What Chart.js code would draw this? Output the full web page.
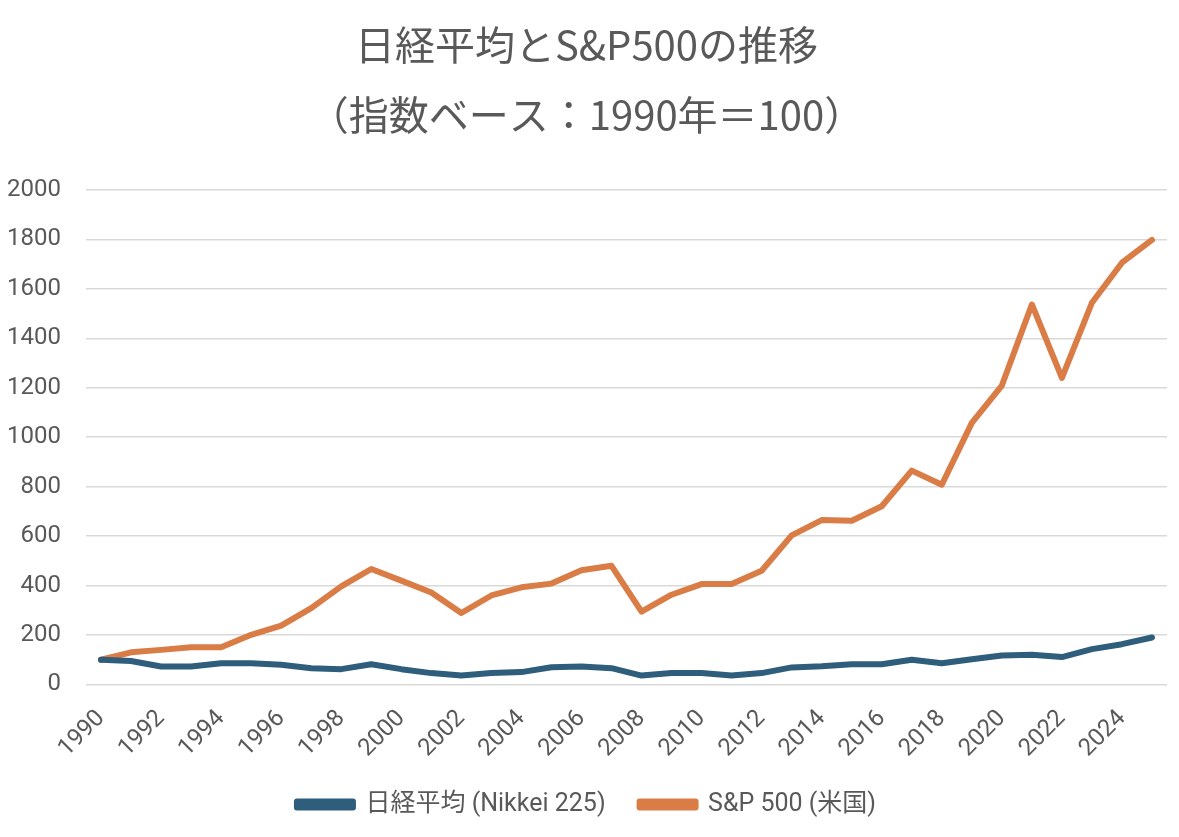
<!DOCTYPE html>
<html lang="ja">
<head>
    <meta charset="UTF-8">
    <title>日経平均とS&amp;P500の推移</title>
    <script src="https://cdn.jsdelivr.net/npm/chart.js"></script>
    <style>
        body {
            margin: 0;
            background: #fff;
        }
        .chart-box {
            width: 1179px;
            height: 837px;
        }
    </style>
</head>
<body>
    <div class="chart-box">
        <canvas id="indexChart" width="1179" height="837"></canvas>
    </div>
    <script>
        const years = [];
        for (let y = 1990; y <= 2025; y++) years.push(String(y));

        const nikkei = [100, 95, 73, 73, 86, 86, 80, 66, 62, 82,
                        62, 46, 36, 46, 50, 70, 73, 66, 36, 46,
                        46, 36, 46, 69, 74, 82, 82, 100, 86, 102,
                        117, 120, 111, 143, 163, 190];
        const sp500 = [100, 130, 140, 151, 151, 201, 238, 309, 397, 467,
                       420, 372, 289, 360, 393, 408, 462, 480, 295, 363,
                       406, 406, 460, 603, 665, 662, 721, 865, 808, 1058,
                       1209, 1537, 1240, 1544, 1706, 1798];

        const titleLines = ['日経平均とS&P500の推移', '（指数ベース：1990年＝100）'];
        const seriesNames = ['日経平均 (Nikkei 225)', 'S&P 500 (米国)'];

        const textColor = '#595959';
        const tickFont = "'Roboto', 'Noto Sans CJK JP', sans-serif";

        const ctx = document.getElementById('indexChart').getContext('2d');
        new Chart(ctx, {
            type: 'line',
            data: {
                labels: years,
                datasets: [
                    {
                        label: seriesNames[0],
                        data: nikkei,
                        borderColor: '#2f5d7c',
                        backgroundColor: '#2f5d7c',
                        borderWidth: 6,
                        pointRadius: 0,
                        tension: 0,
                        borderJoinStyle: 'round',
                        borderCapStyle: 'round'
                    },
                    {
                        label: seriesNames[1],
                        data: sp500,
                        borderColor: '#d97c45',
                        backgroundColor: '#d97c45',
                        borderWidth: 6,
                        pointRadius: 0,
                        tension: 0,
                        borderJoinStyle: 'round',
                        borderCapStyle: 'round'
                    }
                ]
            },
            options: {
                responsive: false,
                animation: false,
                layout: {
                    padding: { left: 6, right: 12, top: 0, bottom: 10 }
                },
                plugins: {
                    title: {
                        display: true,
                        text: titleLines,
                        color: textColor,
                        font: { family: "'Noto Sans CJK JP', sans-serif", size: 40, weight: 'normal', lineHeight: 1.75 },
                        padding: { top: 10, bottom: 40 }
                    },
                    legend: {
                        position: 'bottom',
                        labels: {
                            color: textColor,
                            font: { family: tickFont, size: 25 },
                            boxWidth: 56,
                            boxHeight: 6,
                            padding: 34
                        }
                    },
                    tooltip: { enabled: false }
                },
                scales: {
                    x: {
                        offset: true,
                        grid: { display: false },
                        border: { display: false },
                        afterFit: function (scale) {
                            // let the first rotated label hang under the y labels
                            scale.paddingLeft = 0;
                            scale.paddingRight = 0;
                            scale.height = scale.height - 17;
                        },
                        ticks: {
                            color: textColor,
                            font: { family: tickFont, size: 24 },
                            autoSkip: false,
                            maxRotation: 45,
                            minRotation: 45,
                            padding: 12,
                            callback: function (val, i) {
                                return i % 2 === 0 ? this.getLabelForValue(val) : '';
                            }
                        }
                    },
                    y: {
                        min: 0,
                        max: 2000,
                        grid: { color: '#d9d9d9', lineWidth: 1.5, drawTicks: false },
                        border: { display: false },
                        afterFit: function (scale) {
                            scale.width = 80;
                        },
                        ticks: {
                            stepSize: 200,
                            color: textColor,
                            font: { family: tickFont, size: 24 },
                            padding: 25,
                            callback: function (val) { return String(val); }
                        }
                    }
                }
            }
        });
    </script>
</body>
</html>
